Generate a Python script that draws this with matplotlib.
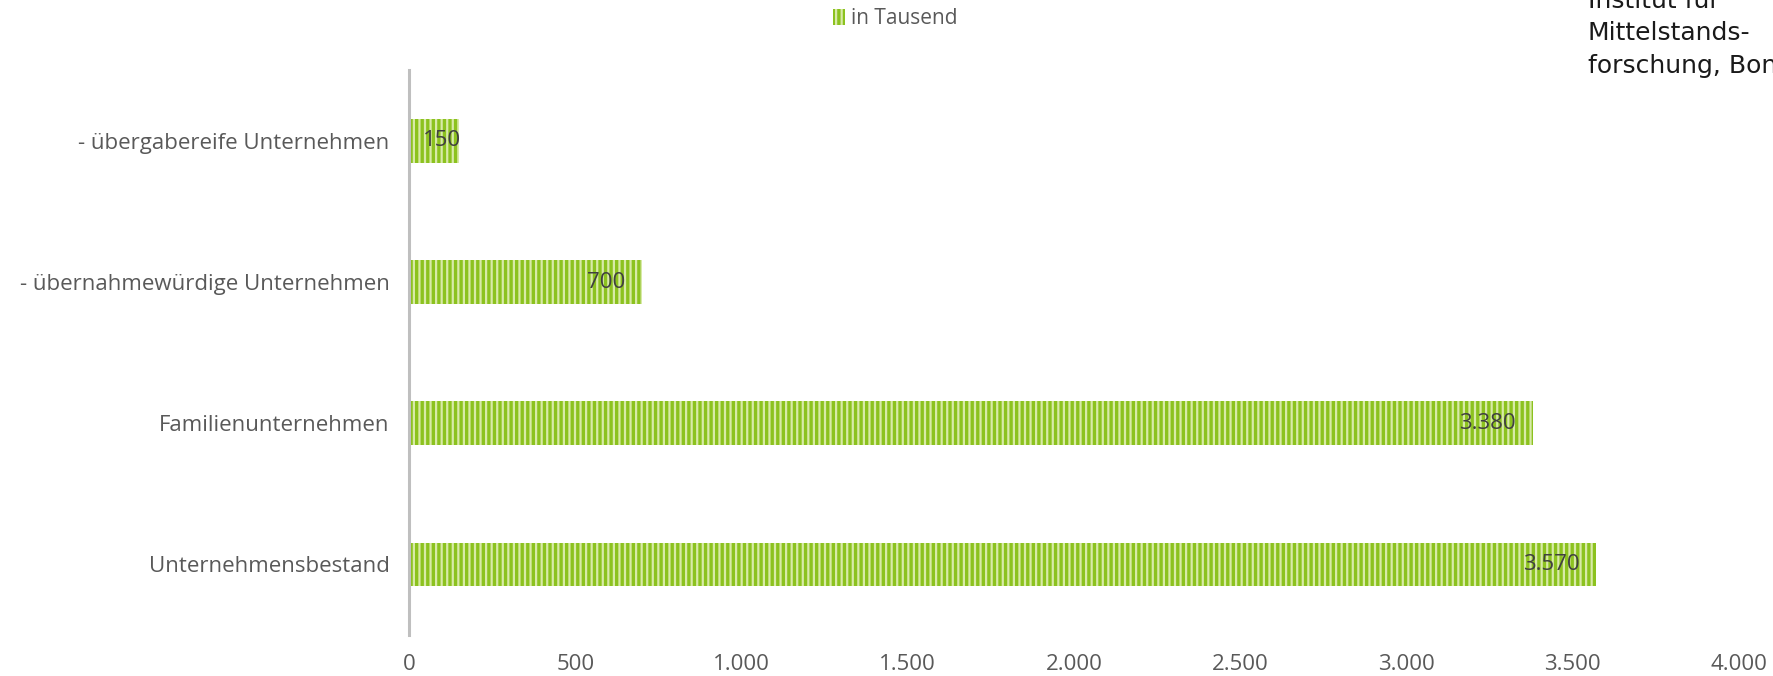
import matplotlib
matplotlib.use("Agg")
import matplotlib.pyplot as plt
from matplotlib.ticker import FuncFormatter

# Daten (in Tausend)
kategorien = ["Unternehmensbestand", "Familienunternehmen",
              "- übernahmewürdige Unternehmen", "- übergabereife Unternehmen"]
werte = [3570, 3380, 700, 150]
x_ticks = [0, 500, 1000, 1500, 2000, 2500, 3000, 3500, 4000]

def de_fmt(v, pos=None):
    return f"{int(v):,}".replace(",", ".")

plt.rcParams['font.family'] = ['Open Sans', 'DejaVu Sans']
plt.rcParams['hatch.linewidth'] = 1.6
plt.rcParams['hatch.color'] = '#d8eaa8'

grau = '#595959'
gruen = '#8cc21f'

fig = plt.figure(figsize=(17.73, 6.76), dpi=100)
ax = fig.add_axes([0.2307, 0.0607, 0.9808 - 0.2307, 0.896 - 0.0607])

y = list(range(len(kategorien)))
bars = ax.barh(y, werte, height=0.31, color=gruen, hatch='|||',
               edgecolor='#d8eaa8', linewidth=0, label='in Tausend')

ax.set_xlim(0, 4000)
ax.set_ylim(-0.5, 3.5)

labels = []
for b, w in zip(bars, werte):
    t = ax.annotate(de_fmt(w), xy=(w, b.get_y() + b.get_height() / 2),
                    xytext=(-12, 0), textcoords='offset points',
                    ha='right', va='center', fontsize=16, color='#404040')
    labels.append(t)

# zu schmale Balken: Beschriftung nicht links ueber die Achse schieben
fig.canvas.draw()
r = fig.canvas.get_renderer()
x0 = ax.transData.transform((0, 0))[0]
for t in labels:
    bb = t.get_window_extent(r)
    if bb.x0 < x0 + 14:
        dx = (x0 + 14 - bb.x0) * 72 / fig.dpi
        t.xyann = (t.xyann[0] + dx, 0)

ax.set_xticks(x_ticks)
ax.xaxis.set_major_formatter(FuncFormatter(de_fmt))
ax.set_yticks(y)
ax.set_yticklabels(kategorien)

for s in ['top', 'right', 'bottom']:
    ax.spines[s].set_visible(False)
ax.spines['left'].set_color('#bfbfbf')
ax.spines['left'].set_linewidth(2.2)

ax.tick_params(axis='both', length=0, labelsize=16, labelcolor=grau)
ax.tick_params(axis='y', pad=14)
ax.tick_params(axis='x', pad=14)

leg = fig.legend(handles=[bars], labels=['in Tausend'], loc='center',
                 bbox_to_anchor=(0.505, 0.972), frameon=False, fontsize=15,
                 handlelength=0.6, handleheight=0.8, handletextpad=0.3)
for t in leg.get_texts():
    t.set_color(grau)

fig.text(0.8956, 0.951, "Institut für\nMittelstands-\nforschung, Bonn",
         ha='left', va='center', fontsize=18, color='#1a1a1a',
         family=['DejaVu Sans'], linespacing=1.45)

fig.savefig("out.png", dpi=100)
